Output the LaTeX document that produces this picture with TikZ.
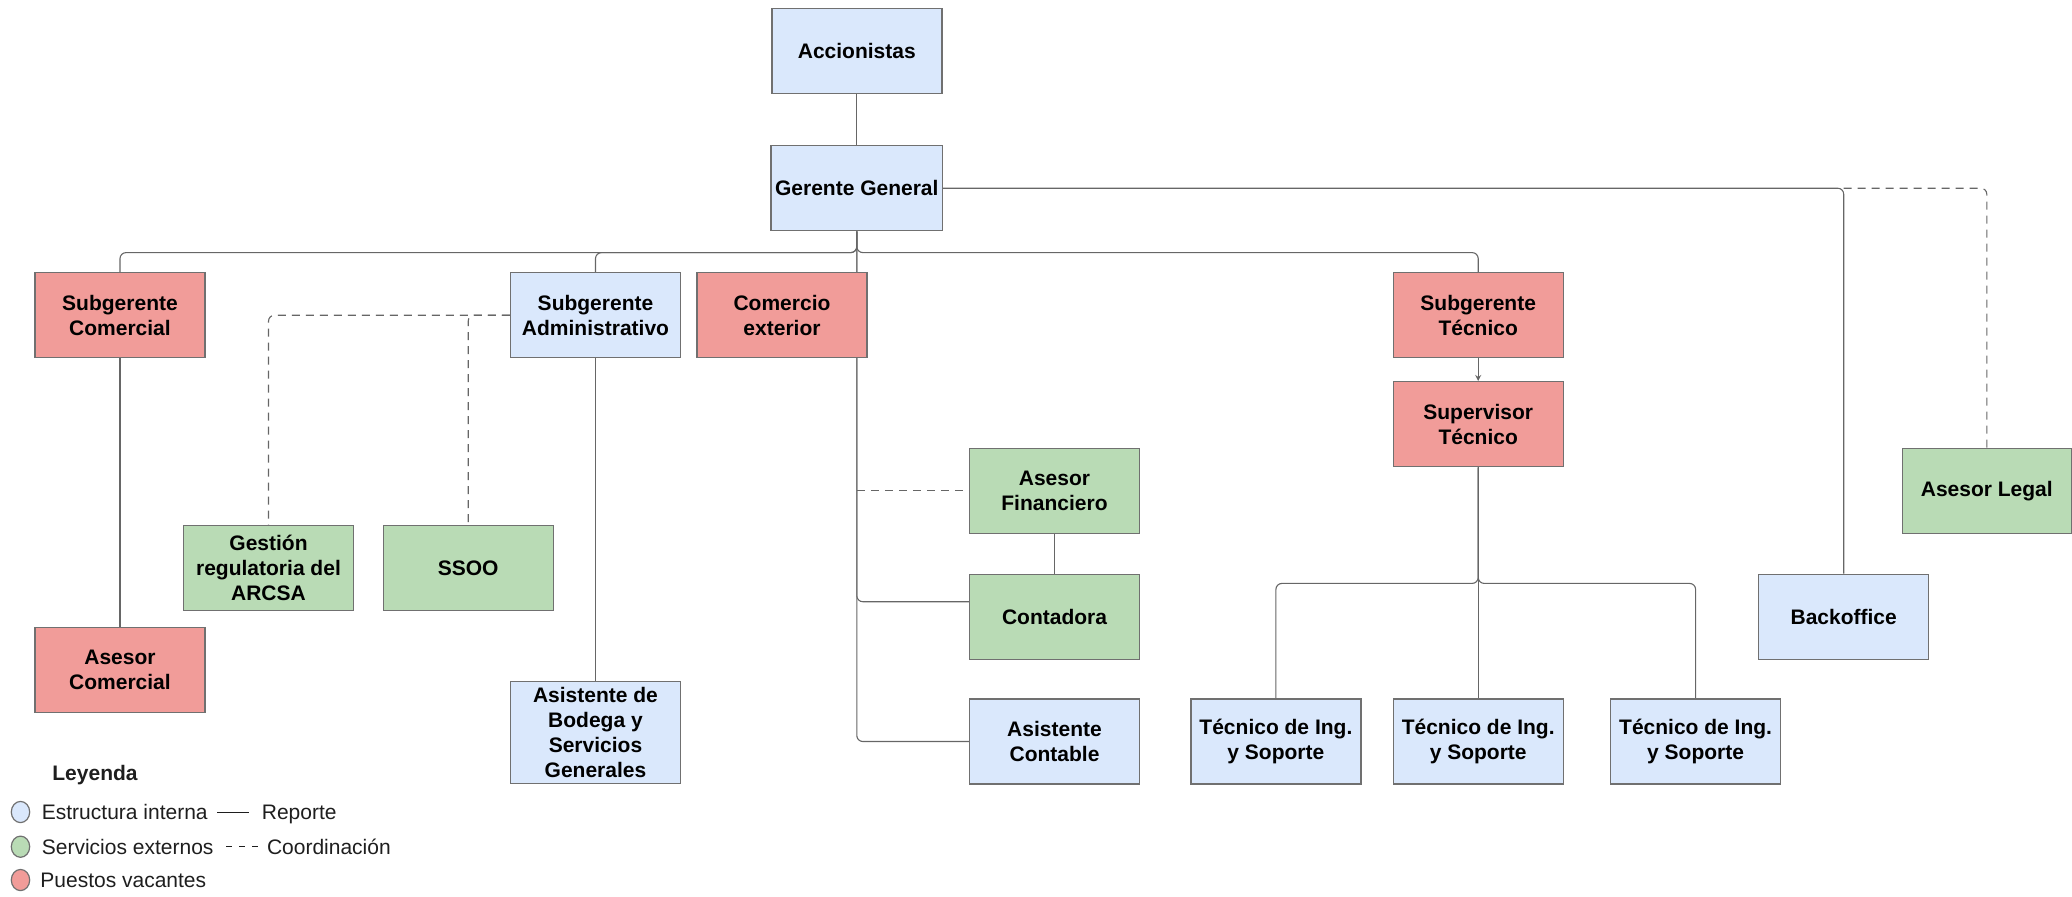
\documentclass[tikz,border=0pt]{standalone}
\usepackage{fontspec}
\setmainfont{Liberation Sans}
\usetikzlibrary{arrows.meta}
\definecolor{cblue}{HTML}{DAE8FC}
\definecolor{cgreen}{HTML}{B9DBB5}
\definecolor{cred}{HTML}{F19C99}
\definecolor{cborder}{HTML}{707070}
\definecolor{cline}{HTML}{666666}
\definecolor{ctext}{HTML}{1E1E1E}
\pgfdeclarelayer{bg}
\pgfsetlayers{bg,main}
\begin{document}
\begin{tikzpicture}[x=0.5pt,y=-0.5pt,
  box/.style={draw=cborder,line width=0.7pt,minimum width=85pt,minimum height=42.5pt,
    inner xsep=2pt,inner ysep=0pt,align=center,
    font=\fontsize{10.5}{12.5}\selectfont\bfseries},
  ibox/.style={box,fill=cblue},
  ebox/.style={box,fill=cgreen},
  vbox/.style={box,fill=cred},
  conn/.style={draw=cline,line width=0.55pt,rounded corners=3pt},
  coordline/.style={conn,dash pattern=on 4pt off 3pt},
  legtext/.style={anchor=base west,inner sep=0pt,text=ctext,
    font=\fontsize{10.5}{12.5}\selectfont},
  legdot/.style={draw=cborder,line width=0.6pt}]
\useasboundingbox (0,0) rectangle (2072,896);

% nodes
\node[ibox] (acc) at (856.8,50.8) {Accionistas};
\node[ibox] (gg) at (856.8,188.2) {Gerente General};
\node[vbox] (sc) at (120,315.2) {Subgerente\\Comercial};
\node[ibox] (sa) at (595.5,315.2) {Subgerente\\Administrativo};
\node[vbox] (ce) at (782,315.2) {Comercio\\exterior};
\node[vbox] (st) at (1478.2,315.2) {Subgerente\\Técnico};
\node[vbox] (sup) at (1478.2,424.2) {Supervisor\\Técnico};
\node[ebox] (gest) at (268.5,568.2) {Gestión\\regulatoria del\\ARCSA};
\node[ebox] (ssoo) at (468.2,568.2) {SSOO};
\node[vbox] (ac) at (120,669.8) {Asesor\\Comercial};
\node[ibox,minimum height=50.8pt] (bod) at (595.5,732.5) {Asistente de\\Bodega y\\Servicios\\Generales};
\node[ebox] (af) at (1054.5,490.8) {Asesor\\Financiero};
\node[ebox] (cont) at (1054.5,616.7) {Contadora};
\node[ibox] (acont) at (1054.5,741.5) {Asistente\\Contable};
\node[ibox] (t1) at (1275.9,741.5) {Técnico de Ing.\\y Soporte};
\node[ibox] (t2) at (1478.2,741.5) {Técnico de Ing.\\y Soporte};
\node[ibox] (t3) at (1695.6,741.5) {Técnico de Ing.\\y Soporte};
\node[ibox] (back) at (1843.7,616.7) {Backoffice};
\node[ebox,minimum width=84.5pt] (legal) at (1986.8,490.8) {Asesor Legal};

% connectors
\begin{pgfonlayer}{bg}
\coordinate (bus) at ([yshift=-10.6pt]gg.south);
\coordinate (tbus) at ([yshift=-58pt]sup.south);
\coordinate (afj) at (gg.south |- af.west);
\coordinate (bk) at (back.north |- gg.east);
\draw[conn] (acc) -- (gg);
\draw[conn] (gg.south) -- (bus) -| (sc.north);
\draw[conn] (gg.south) -- (bus) -| (sa.north);
\draw[conn] (gg.south) -- (bus) -| (st.north);
\draw[conn] (gg.south) |- (acont.west);
\draw[conn] (gg.south) |- ([yshift=7.5pt]cont.west);
\draw[coordline] (afj) -- (af.west);
\draw[conn] (af) -- (cont);
\draw[conn] (sc) -- (ac);
\draw[conn] (sa) -- (bod);
\draw[coordline] (sa.west) -| (gest.north);
\draw[coordline] (sa.west) -| (ssoo.north);
\draw[draw=cline,line width=0.55pt,-{Stealth[length=3pt,width=3pt]}] (st) -- (sup);
\draw[conn] (sup.south) -- (tbus) -| (t1.north);
\draw[conn] (sup.south) -- (tbus) -| (t3.north);
\draw[conn] (sup) -- (t2);
\draw[conn] (gg.east) -| (back.north);
\draw[coordline] (bk) -| (legal.north);
\end{pgfonlayer}

% legend
\node[anchor=base,inner sep=0pt,text=ctext,font=\fontsize{10.5}{12.5}\selectfont\bfseries] (ley) at (95,780.5) {Leyenda};
\draw[legdot,fill=cblue] (20.5,812) ellipse [x radius=4.6pt,y radius=5.3pt];
\draw[legdot,fill=cgreen] (20.5,846.7) ellipse [x radius=4.6pt,y radius=5.3pt];
\draw[legdot,fill=cred] (20.5,880) ellipse [x radius=4.6pt,y radius=5.3pt];
\node[legtext] (l1) at (41.5,819.5) {Estructura interna};
\node[legtext] (l2) at (41.5,854.2) {Servicios externos};
\node[legtext] (l3) at (40,887.5) {Puestos vacantes};
\draw[draw=ctext,line width=0.5pt] (217,812) -- (249,812);
\node[legtext] (l4) at (261.5,819.5) {Reporte};
\draw[draw=ctext,line width=0.5pt,dash pattern=on 3pt off 3.5pt] (226,846.7) -- (258,846.7);
\node[legtext] (l5) at (266.6,854.2) {Coordinación};
\end{tikzpicture}
\end{document}
